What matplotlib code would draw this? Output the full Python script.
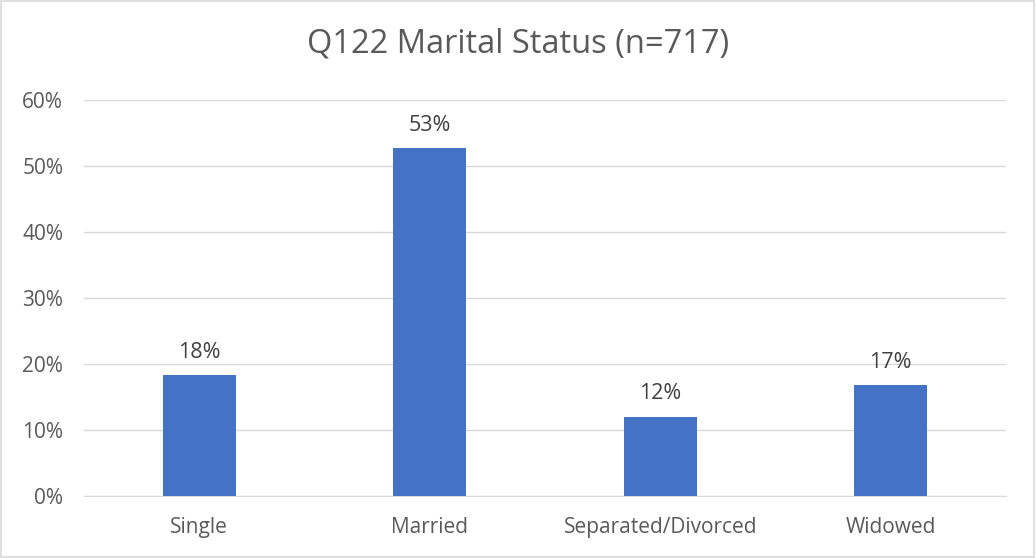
import matplotlib.pyplot as plt
from matplotlib.ticker import PercentFormatter

categories = ["Single", "Married", "Separated/Divorced", "Widowed"]
shares = [18.3, 52.7, 12.0, 16.8]
labels = ["18%", "53%", "12%", "17%"]

plt.rcParams["font.family"] = ["Open Sans", "DejaVu Sans"]

fig = plt.figure(figsize=(10.36, 5.58), dpi=100)
ax = fig.add_axes([84 / 1036, 1 - 496 / 558, 922 / 1036, 396 / 558])

x = range(len(categories))
bars = ax.bar(x, shares, width=0.315, color="#4472C4", zorder=3)

for bar, lab in zip(bars, labels):
    ax.text(bar.get_x() + bar.get_width() / 2, bar.get_height() + 1.9, lab,
            ha="center", va="bottom", fontsize=15.5, color="#404040")

ax.set_xlim(-0.5, len(categories) - 0.5)
ax.set_ylim(0, 60)
ax.set_yticks(range(0, 61, 10))
ax.yaxis.set_major_formatter(PercentFormatter(decimals=0))
ax.set_xticks(list(x))
ax.set_xticklabels(categories)
ax.tick_params(axis="both", length=0, labelsize=15, colors="#595959")
ax.tick_params(axis="x", pad=15)
ax.tick_params(axis="y", pad=15)
ax.grid(axis="y", color="#D9D9D9", linewidth=1, zorder=0)

for side in ["top", "right", "left"]:
    ax.spines[side].set_visible(False)
ax.spines["bottom"].set_color("#D9D9D9")

fig.text(0.5, 1 - 44 / 558, "Q122 Marital Status (n=717)", ha="center", va="center",
         fontsize=23.5, color="#595959")

# thin border round the chart area
fig.patches.append(plt.Rectangle((0.001, 0.002), 0.997, 0.996, transform=fig.transFigure,
                                 fill=False, edgecolor="#D9D9D9", linewidth=1.2))

plt.savefig("out.png", dpi=100)
plt.close()
